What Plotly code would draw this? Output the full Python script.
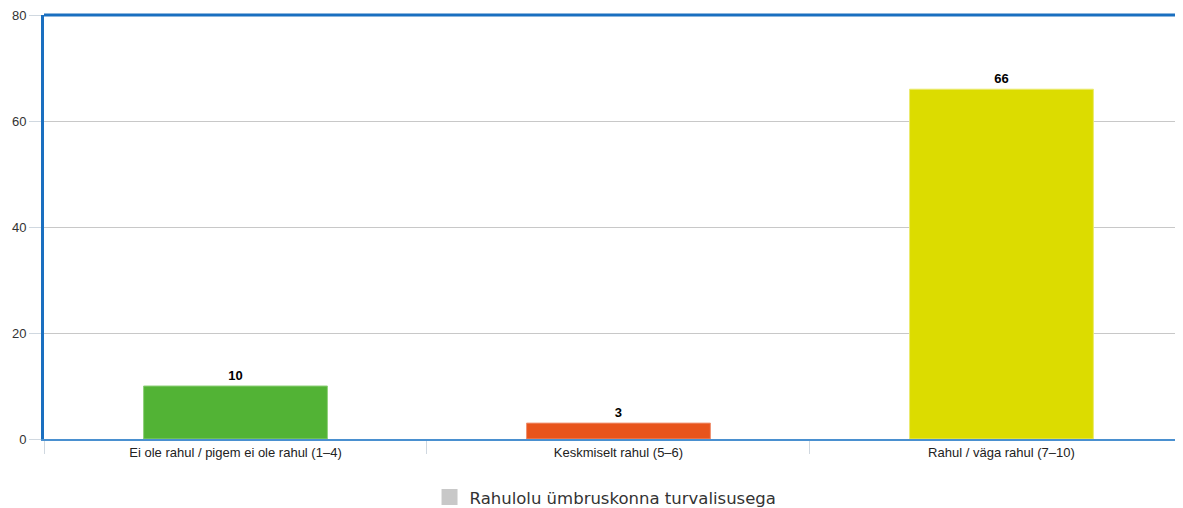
import plotly.graph_objects as go

categories = ["Ei ole rahul / pigem ei ole rahul (1–4)", "Keskmiselt rahul (5–6)", "Rahul / väga rahul (7–10)"]
values = [10, 3, 66]
bar_colors = ["#52b335", "#e8541c", "#dcdc00"]
bar_edges = ["#8fd07a", "#f09070", "#eaea70"]
series_name = "Rahulolu ümbruskonna turvalisusega"
y_ticks = [0, 20, 40, 60, 80]

fig = go.Figure()
fig.add_trace(go.Bar(
    x=categories, y=values,
    marker=dict(color=bar_colors, line=dict(color=bar_edges, width=1)),
    width=0.48,
    text=[str(v) for v in values], textposition="outside",
    textfont=dict(family="Liberation Sans", size=13, color="#000000", weight="bold"),
    cliponaxis=False, showlegend=False, hoverinfo="x+y",
))
fig.add_trace(go.Scatter(
    x=[categories[0]], y=[None], name=series_name, mode="markers",
    marker=dict(color="#c8c8c8", symbol="square", size=18), showlegend=True,
))

fig.update_layout(
    width=1175, height=500,
    margin=dict(l=36, r=0, t=7, b=69, autoexpand=False),
    paper_bgcolor="white", plot_bgcolor="white",
    font=dict(family="Liberation Sans", size=13, color="#333333"),
    barmode="overlay",
    legend=dict(orientation="h", x=0.493, xanchor="center", y=-0.179, yanchor="bottom",
                font=dict(family="DejaVu Sans", size=16.5, color="#333333"), itemwidth=30),
    xaxis=dict(
        range=[-0.5, 2.474], type="category",
        showline=True, linecolor="#4a90d0", linewidth=2,
        ticks="outside", tickson="boundaries", ticklen=13, tickcolor="#d0d8e0",
        tickfont=dict(size=13, color="#222222"),
        showgrid=False, fixedrange=True, automargin=False,
    ),
    yaxis=dict(
        range=[0, 80], tickvals=y_ticks,
        showline=True, linecolor="#1a6fc0", linewidth=3,
        showgrid=True, gridcolor="#c8c8c8", gridwidth=1,
        ticks="outside", ticklen=12, tickcolor="#d0d8e0",
        tickfont=dict(size=13, color="#333333"),
        zeroline=False, automargin=False, ticklabeloverflow="allow",
    ),
    shapes=[dict(type="line", xref="paper", yref="paper", x0=0, x1=1, y0=1, y1=1,
                 line=dict(color="#1a6fc0", width=3))],
)

fig.write_html("out.html")
